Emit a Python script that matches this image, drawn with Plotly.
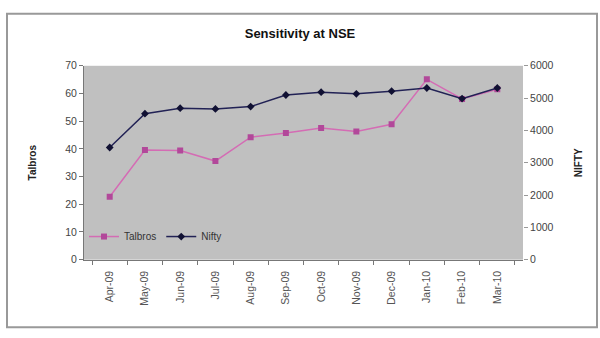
import plotly.graph_objects as go

months = ["Apr-09", "May-09", "Jun-09", "Jul-09", "Aug-09", "Sep-09",
          "Oct-09", "Nov-09", "Dec-09", "Jan-10", "Feb-10", "Mar-10"]
talbros = [22.7, 39.6, 39.4, 35.6, 44.2, 45.7, 47.5, 46.3, 48.9, 65.1, 58.0, 61.5]
nifty = [3472, 4517, 4687, 4666, 4737, 5096, 5185, 5134, 5214, 5313, 4985, 5313]

W, H = 600, 338
def px(x):
    return x / W
def py(y):
    return 1 - y / H

FONT = "Liberation Sans, Arial, sans-serif"

fig = go.Figure()
fig.add_trace(go.Scatter(
    x=months, y=talbros, name="Talbros", mode="lines+markers",
    line=dict(color="#D46CB4", width=1.5),
    marker=dict(symbol="square", size=6, color="#B2489A"),
    yaxis="y"))
fig.add_trace(go.Scatter(
    x=months, y=nifty, name="Nifty", mode="lines+markers",
    line=dict(color="#222255", width=1.5),
    marker=dict(symbol="diamond", size=6, color="#111133"),
    yaxis="y2"))

fig.update_layout(
    width=W, height=H,
    margin=dict(l=0, r=0, t=0, b=0),
    paper_bgcolor="white",
    plot_bgcolor="#C0C0C0",
    font=dict(family=FONT, size=10, color="#333333"),
    title=dict(text="<b>Sensitivity at NSE</b>", x=0.5, xanchor="center",
               y=py(33), yanchor="middle",
               font=dict(size=13, color="#111111", family=FONT)),
    xaxis=dict(domain=[px(84), px(523)], type="category",
               tickangle=-90, ticks="outside", tickson="boundaries",
               ticklen=4, tickcolor="#777777", ticklabelstandoff=6,
               showline=True, linecolor="#777777", linewidth=1,
               showgrid=False, zeroline=False,
               tickfont=dict(size=10.5, color="#555555")),
    yaxis=dict(domain=[py(263), py(62)], range=[0, 70], dtick=10,
               ticks="outside", ticklen=4, tickcolor="#777777",
               showline=True, linecolor="#777777", linewidth=1,
               showgrid=False, zeroline=False,
               title=dict(text="<b>Talbros</b>", standoff=26,
                          font=dict(size=10, color="#222222")),
               tickfont=dict(size=10.5, color="#444444")),
    yaxis2=dict(overlaying="y", side="right", range=[0, 6000], dtick=1000,
                anchor="x",
                ticks="outside", ticklen=4, tickcolor="#999999",
                showline=False, showgrid=False, zeroline=False,
                title=dict(text="<b>NIFTY</b>", standoff=22,
                           font=dict(size=10, color="#222222")),
                tickfont=dict(size=10.5, color="#444444")),
    legend=dict(x=px(84), y=py(224), xanchor="left", yanchor="top",
                orientation="h", bgcolor="rgba(0,0,0,0)",
                font=dict(size=10, color="#333333"),
                itemwidth=30, tracegroupgap=0),
    showlegend=True,
    shapes=[dict(type="rect", xref="paper", yref="paper",
                 x0=px(7), x1=px(597), y0=py(333), y1=py(8),
                 line=dict(color="#999999", width=2))],
)

fig.write_html("out.html")
